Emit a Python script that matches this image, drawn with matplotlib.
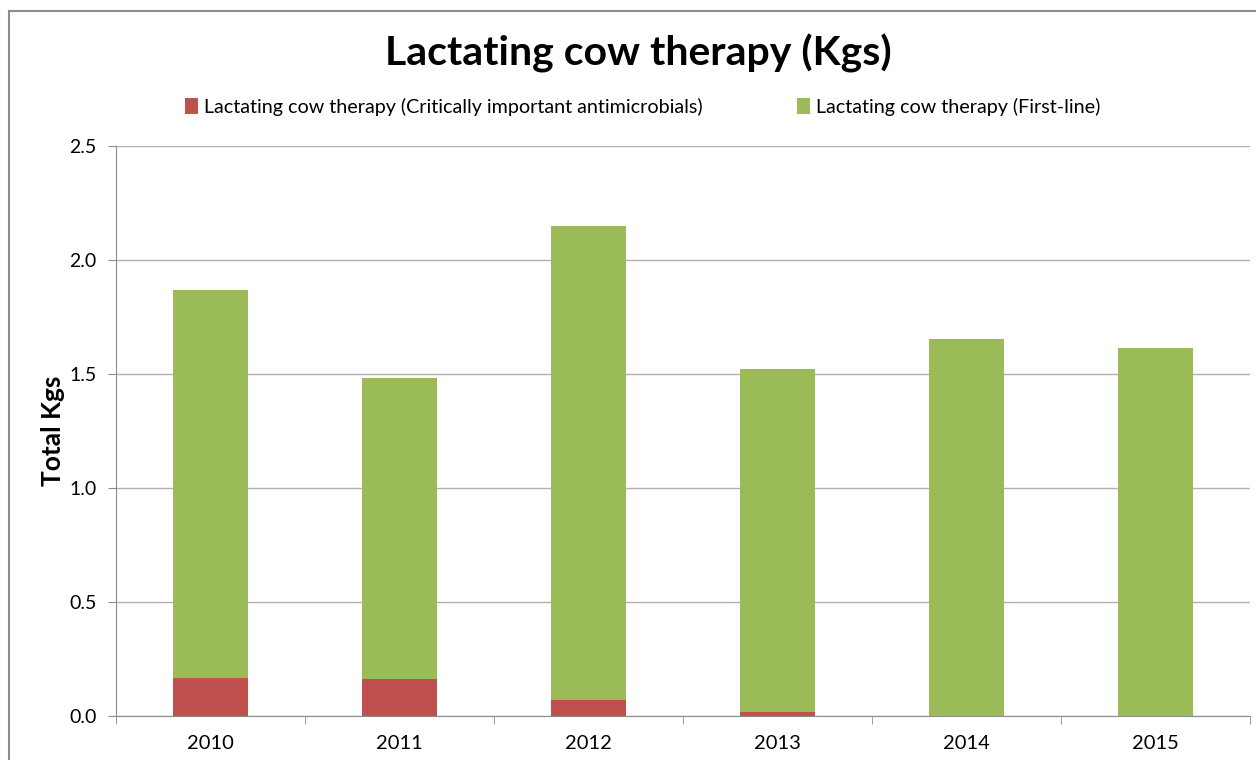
import matplotlib.pyplot as plt
from matplotlib.patches import Rectangle

# Data
years = ['2010', '2011', '2012', '2013', '2014', '2015']
critical = [0.167, 0.162, 0.070, 0.018, 0.0, 0.0]
totals = [1.868, 1.482, 2.149, 1.522, 1.654, 1.614]
first_line = [t - c for t, c in zip(totals, critical)]

plt.rcParams['font.family'] = ['Lato', 'DejaVu Sans']

fig = plt.figure(figsize=(12.56, 7.6), dpi=100)
ax = fig.add_axes([116 / 1256, 1 - 716 / 760, 1134 / 1256, 570 / 760])

# outer chart frame (clipped by the image edges on the right and bottom)
fig.patches.append(Rectangle((9 / 1256, -0.05), 1.1, 1 - 11 / 760 + 0.05,
                             transform=fig.transFigure, fill=False,
                             edgecolor='#8c8c8c', linewidth=1.5))

x = range(len(years))
ax.bar(x, critical, width=0.4, color='#C0504D',
       label='Lactating cow therapy (Critically important antimicrobials)', zorder=3)
ax.bar(x, first_line, bottom=critical, width=0.4, color='#9BBB59',
       label='Lactating cow therapy (First-line)', zorder=3)

ax.set_xlim(-0.5, len(years) - 0.5)
ax.set_ylim(0, 2.5)
ax.set_yticks([0, 0.5, 1.0, 1.5, 2.0, 2.5])
ax.set_yticklabels(['0.0', '0.5', '1.0', '1.5', '2.0', '2.5'])
ax.set_xticks(list(x))
ax.set_xticklabels(years)
ax.set_xticks([i - 0.5 for i in range(len(years) + 1)], minor=True)
ax.tick_params(axis='x', which='major', length=0, labelsize=14.5, pad=14)
ax.tick_params(axis='x', which='minor', length=6, color='#8c8c8c')
ax.tick_params(axis='y', length=6, color='#8c8c8c', labelsize=14, pad=8)

ax.grid(axis='y', color='#b0b0b0', linewidth=1, zorder=0)
for side in ['top', 'right']:
    ax.spines[side].set_visible(False)
for side in ['left', 'bottom']:
    ax.spines[side].set_color('#8c8c8c')

ax.set_ylabel('Total Kgs', fontsize=19, fontweight='bold', labelpad=3)
fig.text(638 / 1256, 1 - 53 / 760, 'Lactating cow therapy (Kgs)',
         fontsize=29.5, fontweight='bold', ha='center', va='center')

fig.legend(loc='center', bbox_to_anchor=(643 / 1256, 1 - 107 / 760), ncol=2,
           frameon=False, fontsize=14.2, handlelength=0.65, handleheight=0.9,
           handletextpad=0.3, columnspacing=4.8)

fig.savefig('out.png', dpi=100)
